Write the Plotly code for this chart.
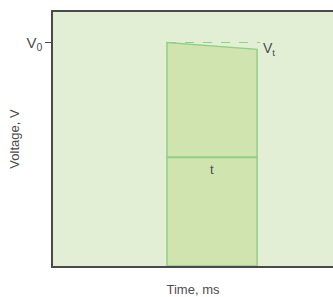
import plotly.graph_objects as go

# data
pulse_start = 40.7
pulse_end = 72.9
v0 = 88.0
vt = 85.3
mid_level = 42.8
dash_end = 74.0
x_range = [0, 100]
y_range = [0, 100]
tick_vals = [v0]
tick_text = ["V<sub>0</sub>"]

line_green = "rgb(145,208,135)"
fill_green = "rgb(208,228,176)"
bg_green = "rgb(226,239,213)"
axis_col = "#4a4a4a"
text_col = "#4d4d4d"

fig = go.Figure()
fig.add_trace(go.Scatter(
    x=[pulse_start, pulse_start, pulse_end, pulse_end, pulse_start],
    y=[0, v0, vt, 0, 0],
    fill="toself", fillcolor=fill_green,
    line=dict(color=line_green, width=1.5), mode="lines", hoverinfo="skip"))
fig.add_trace(go.Scatter(
    x=[pulse_start, pulse_end], y=[mid_level, mid_level],
    line=dict(color=line_green, width=2), mode="lines", hoverinfo="skip"))
fig.add_trace(go.Scatter(
    x=[pulse_start, dash_end], y=[v0, v0],
    line=dict(color=line_green, width=1.2, dash="dash"), mode="lines", hoverinfo="skip"))

fig.add_annotation(x=dash_end, y=vt, text="V<sub>t</sub>", showarrow=False,
                   xanchor="left", yanchor="middle", xshift=1,
                   font=dict(size=14, color=text_col))
fig.add_annotation(x=(pulse_start + pulse_end) / 2, y=mid_level, text="t", showarrow=False,
                   yanchor="top", yshift=-3,
                   font=dict(size=13, color=text_col))

fig.update_layout(
    width=333, height=297,
    margin=dict(l=53, r=0, t=12, b=31),
    paper_bgcolor="white", plot_bgcolor=bg_green,
    showlegend=False,
    font=dict(family="Liberation Sans, Arial, sans-serif", size=13, color=text_col),
    xaxis=dict(range=x_range, showgrid=False, zeroline=False, showticklabels=False,
               showline=True, linecolor=axis_col, linewidth=1.5, mirror=True, ticks="",
               automargin=False,
               title=dict(text="Time, ms", standoff=20, font=dict(size=13, color=text_col))),
    yaxis=dict(range=y_range, showgrid=False, zeroline=False,
               tickvals=tick_vals, ticktext=tick_text, ticks="outside", ticklen=6,
               tickcolor=axis_col, tickwidth=1, tickfont=dict(size=15, color=text_col),
               showline=True, linecolor=axis_col, linewidth=1.5, automargin=False,
               title=dict(text="Voltage, V", standoff=4, font=dict(size=13, color=text_col))),
)
fig.write_html("out.html", config={"displayModeBar": False},
               post_script="document.body.style.margin='0';document.body.style.overflow='hidden';")
